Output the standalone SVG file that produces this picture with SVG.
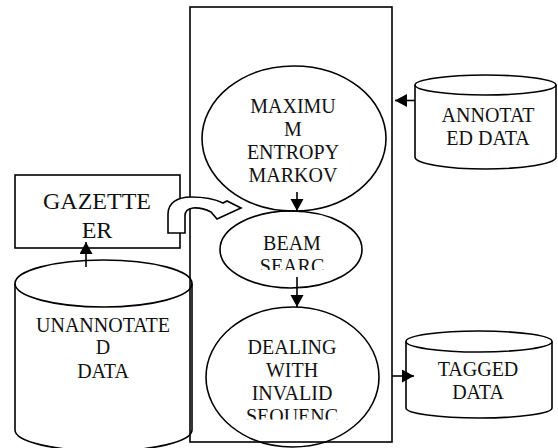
<svg xmlns="http://www.w3.org/2000/svg" width="558" height="448" viewBox="0 0 558 448">
  <defs>
    <marker id="head" markerUnits="userSpaceOnUse" markerWidth="14" markerHeight="14" refX="12" refY="6.5" orient="auto">
      <path d="M0,0 L12,6.5 L0,13 Z" fill="#000"/>
    </marker>
    <clipPath id="clipBeam"><rect x="200" y="220" width="180" height="50"/></clipPath>
    <clipPath id="clipDeal"><rect x="200" y="320" width="190" height="99.5"/></clipPath>
  </defs>
  <style>
    .shape { fill: none; stroke: #000; stroke-width: 1.6; }
    .label { font-family: "Liberation Serif", "Times New Roman", serif; font-size: 20px; fill: #111; text-anchor: middle; }
    .big { font-size: 24px; }
    .conn { fill: none; stroke: #000; stroke-width: 1.6; marker-end: url(#head); }
  </style>

  <!-- processing frame -->
  <g id="frame">
    <rect class="shape" x="190" y="7" width="202" height="435"/>
  </g>

  <g id="maxent">
    <ellipse class="shape" cx="294" cy="138.5" rx="92" ry="72.5"/>
    <text class="label" x="293" y="113">MAXIMU</text>
    <text class="label" x="293" y="136">M</text>
    <text class="label" x="293" y="158.5">ENTROPY</text>
    <text class="label" x="293" y="181.5">MARKOV</text>
  </g>

  <g id="beam">
    <ellipse class="shape" cx="291" cy="249.5" rx="71" ry="38.5"/>
    <g clip-path="url(#clipBeam)">
      <text class="label" x="292" y="250">BEAM</text>
      <text class="label" x="292" y="273">SEARC</text>
    </g>
  </g>

  <g id="invalid">
    <ellipse class="shape" cx="292.5" cy="377" rx="86.5" ry="70"/>
    <g clip-path="url(#clipDeal)">
      <text class="label" x="292" y="353.5">DEALING</text>
      <text class="label" x="292" y="377">WITH</text>
      <text class="label" x="292" y="400">INVALID</text>
      <text class="label" x="292" y="423">SEQUENC</text>
    </g>
  </g>

  <g id="gazetteer">
    <rect class="shape" x="15" y="175" width="165" height="73"/>
    <text class="label big" x="97" y="208.5">GAZETTE</text>
    <text class="label big" x="97" y="237.5">ER</text>
  </g>

  <g id="unannotated">
    <path class="shape" d="M15,283.5 V430 A88.5,21 0 0 0 192,430 V283.5"/>
    <ellipse class="shape" cx="103.5" cy="283.5" rx="88.5" ry="23.5"/>
    <text class="label" x="103" y="332">UNANNOTATE</text>
    <text class="label" x="103" y="353.5">D</text>
    <text class="label" x="103" y="377.5">DATA</text>
  </g>

  <g id="annotated">
    <path class="shape" d="M415,85 V157 A70.5,12 0 0 0 556,157 V85"/>
    <ellipse class="shape" cx="485.5" cy="85" rx="70.5" ry="10"/>
    <text class="label" x="488" y="122">ANNOTAT</text>
    <text class="label" x="488" y="144.5">ED DATA</text>
  </g>

  <g id="tagged">
    <path class="shape" d="M406,341.5 V408 A73,10 0 0 0 552,408 V341.5"/>
    <ellipse class="shape" cx="479" cy="341.5" rx="73" ry="10.5"/>
    <text class="label" x="478" y="376">TAGGED</text>
    <text class="label" x="478" y="398.5">DATA</text>
  </g>

  <g id="connectors">
    <line class="conn" x1="86" y1="267" x2="86" y2="242"/>
    <line class="conn" x1="297" y1="192" x2="297" y2="211"/>
    <line class="conn" x1="297" y1="277" x2="297" y2="307"/>
    <line class="conn" x1="415" y1="100.5" x2="395" y2="100.5"/>
    <line class="conn" x1="392" y1="376" x2="414" y2="376"/>
    <!-- U-turn block arrow from the gazetteer into the frame -->
    <path d="M168,233 V214 C168,203 177,197 191,197 C204,197 215,199 223,203 L227,201 L241,208 L217,219 L211,212 C206,209.5 199,207.5 193,208 C188,208.5 185,211.5 185,216 V233 Z" fill="#fff" stroke="#000" stroke-width="1.6" stroke-linejoin="miter"/>
  </g>
</svg>
